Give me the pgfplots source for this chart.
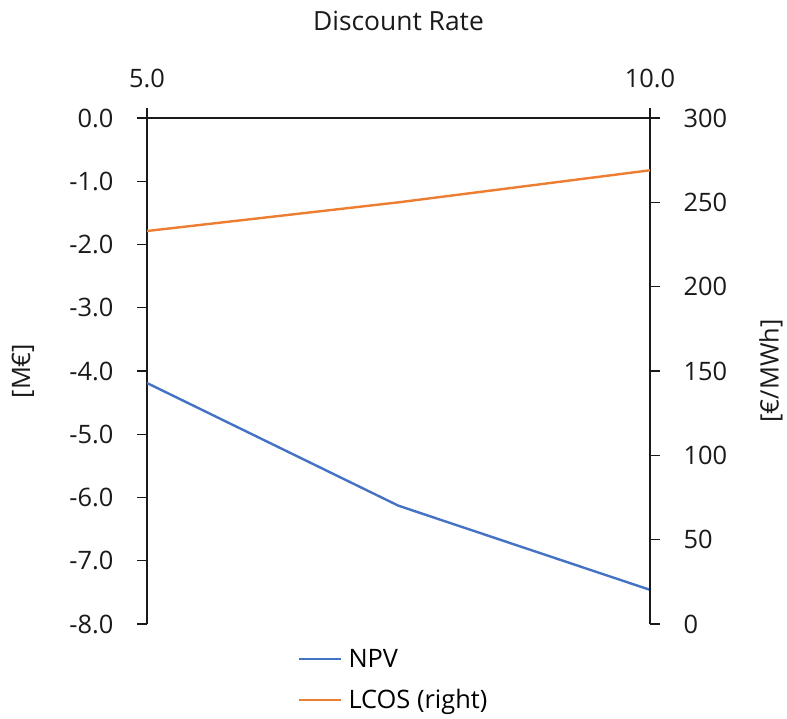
\documentclass[border=0pt]{standalone}
\usepackage{fontspec}
\setmainfont{Open Sans}
\usepackage{pgfplots}
\pgfplotsset{compat=1.18}

\definecolor{npvblue}{HTML}{4472C4}
\definecolor{lcosorange}{HTML}{ED7D31}
\definecolor{axisgray}{HTML}{1A1A1A}

\pgfplotsset{
  common/.style={
    scale only axis,
    width=503bp, height=506bp,
    at={(147bp,95bp)}, anchor=south west,
    xmin=5, xmax=10,
    tick align=outside,
    major tick length=10bp,
    axis line style={axisgray, line width=1.3bp},
    tick style={axisgray, line width=1.3bp},
    every tick label/.append style={font=\fontsize{25.5}{30}\selectfont, text=axisgray},
    /pgf/number format/assume math mode=true,
    xticklabel shift=17bp,
    yticklabel shift=20bp,
  },
}

\begin{document}
\begin{tikzpicture}
\path[use as bounding box] (0,0) rectangle (787bp,719bp);

% NPV on the left axis, discount rate along the top
\begin{axis}[
  common,
  axis x line*=top,
  axis y line*=left,
  ymin=-8, ymax=0,
  ytick={-8,-7,...,0},
  xtick={5,10},
  xticklabel style={/pgf/number format/.cd, fixed, fixed zerofill, precision=1},
  yticklabel style={/pgf/number format/.cd, fixed, fixed zerofill, precision=1},
  xlabel={Discount Rate},
  ylabel={[M€]},
  xlabel style={at={(rel axis cs:0.5,1)}, anchor=base, yshift=88bp,
    font=\fontsize{26.5}{30}\selectfont, text=axisgray},
  % label is rotated, so its own y direction points to the left
  ylabel style={at={(rel axis cs:0,0.5)}, anchor=center, yshift=124bp,
    font=\fontsize{25.5}{30}\selectfont, text=axisgray},
]
\addplot[npvblue, line width=2.4bp] coordinates {
  (5,-4.19) (7.5,-6.13) (10,-7.46)
};
\end{axis}

% LCOS on the right axis
\begin{axis}[
  common,
  axis x line=none,
  axis y line*=right,
  ymin=0, ymax=300,
  ytick={0,50,...,300},
  ylabel={[€/MWh]},
  ylabel style={at={(rel axis cs:1,0.5)}, anchor=center, yshift=-121bp,
    font=\fontsize{25.5}{30}\selectfont, text=axisgray},
  legend style={
    at={(rel axis cs:0.3,-0.045)}, anchor=north west,
    draw=none, fill=none, inner sep=0pt,
    font=\fontsize{25.5}{30}\selectfont,
    row sep=17bp,
    nodes={inner xsep=6bp},
  },
  legend cell align=left,
  legend image code/.code={\draw[#1] (0bp,0bp) -- (42bp,0bp);},
]
\addlegendimage{npvblue, line width=2.4bp}
\addlegendentry{NPV}
\addplot[lcosorange, line width=2.4bp] coordinates {
  (5,233) (7.5,250) (10,269)
};
\addlegendentry{LCOS (right)}
\end{axis}
\end{tikzpicture}
\end{document}
